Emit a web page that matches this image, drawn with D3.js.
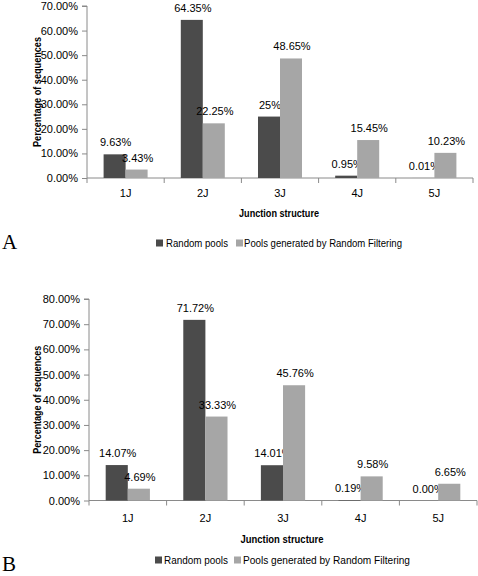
<!DOCTYPE html>
<html><head><meta charset="utf-8">
<script src="https://cdn.jsdelivr.net/npm/d3@7"></script>
<style>
html,body{margin:0;padding:0;background:#fff;}
svg{display:block;}
text{font-family:"Liberation Sans",Arial,sans-serif;fill:#000;}
</style></head>
<body>
<svg id="c" width="478" height="576"></svg>
<script>
const categories = ["1J","2J","3J","4J","5J"];
const seriesNames = ["Random pools","Pools generated by Random Filtering"];

const randomA = [9.63, 64.35, 25, 0.95, 0.01];
const filterA = [3.43, 22.25, 48.65, 15.45, 10.23];
const randomALabels = ["9.63%","64.35%","25%","0.95%","0.01%"];
const filterALabels = ["3.43%","22.25%","48.65%","15.45%","10.23%"];
const ticksA = [0,10,20,30,40,50,60,70];

const randomB = [14.07, 71.72, 14.01, 0.19, 0.00];
const filterB = [4.69, 33.33, 45.76, 9.58, 6.65];
const randomBLabels = ["14.07%","71.72%","14.01%","0.19%","0.00%"];
const filterBLabels = ["4.69%","33.33%","45.76%","9.58%","6.65%"];
const ticksB = [0,10,20,30,40,50,60,70,80];

const colors = ["#4b4b4b","#a6a6a6"];
const axisColor = "#8a8a8a";
const fs = "11px";

const svg = d3.select("#c");

function drawChart(o){
  const g = svg.append("g");
  const x0 = d3.scaleBand().domain(categories).range([o.left,o.right]).paddingInner(0.43).paddingOuter(0.215);
  const x1 = d3.scaleBand().domain([0,1]).range([0,x0.bandwidth()]);
  const y = d3.scaleLinear().domain([0,d3.max(o.ticks)]).range([o.bottom,o.top]);
  const step = x0.step();

  const ya = d3.axisLeft(y).tickValues(o.ticks).tickSize(5).tickPadding(4).tickFormat(d=>d.toFixed(2)+"%");
  const yg = g.append("g").attr("transform",`translate(${o.left},0)`).call(ya);
  yg.select(".domain").attr("stroke",axisColor).attr("d",`M-5,${y(d3.max(o.ticks))}H0V${o.bottom}`);
  yg.selectAll(".tick line").attr("stroke",axisColor);
  yg.selectAll("text").style("font-size",fs).style("font-family","'Liberation Sans',Arial,sans-serif").attr("fill","#000");

  const xa = g.append("g");
  xa.append("line").attr("x1",o.left).attr("x2",o.right).attr("y1",o.bottom).attr("y2",o.bottom).attr("stroke",axisColor);
  const bounds = d3.range(categories.length+1).map(i=>o.left + i*step);
  xa.selectAll("line.tk").data(bounds).join("line").attr("class","tk")
    .attr("x1",d=>d).attr("x2",d=>d).attr("y1",o.bottom).attr("y2",o.bottom+5).attr("stroke",axisColor);
  xa.selectAll("text.cat").data(categories).join("text").attr("class","cat")
    .attr("x",d=>x0(d)+x0.bandwidth()/2).attr("y",o.catY).attr("text-anchor","middle")
    .style("font-size",fs).text(d=>d);

  const series = [o.s1,o.s2];
  const labels = [o.l1,o.l2];
  series.forEach((s,si)=>{
    g.selectAll("rect.s"+si).data(s).join("rect").attr("class","s"+si)
      .attr("x",(d,i)=>x0(categories[i])+x1(si))
      .attr("width",x1.bandwidth())
      .attr("y",d=>y(d))
      .attr("height",d=>o.bottom-y(d))
      .attr("fill",colors[si]);
    g.selectAll("text.l"+si).data(s).join("text").attr("class","l"+si)
      .attr("x",(d,i)=>x0(categories[i])+x1(si)+x1.bandwidth()/2+1)
      .attr("y",d=>y(d)-8)
      .attr("text-anchor","middle").style("font-size",fs)
      .text((d,i)=>labels[si][i]);
  });

  g.append("text").attr("x",o.xTitleX - o.xTitleLen/2).attr("y",o.xTitleY)
    .attr("textLength",o.xTitleLen).attr("lengthAdjust","spacingAndGlyphs")
    .style("font-size",fs).style("font-weight","bold").text("Junction structure");
  g.append("text").attr("transform",`translate(41,${(o.top+o.bottom)/2 + o.yTitleLen/2}) rotate(-90)`)
    .attr("textLength",o.yTitleLen).attr("lengthAdjust","spacingAndGlyphs")
    .style("font-size",fs).style("font-weight","bold").text("Percentage of sequences");

  const L = o.leg;
  const lg = g.append("g").attr("transform",`translate(0,${o.legY})`);
  lg.append("rect").attr("x",L[0]).attr("y",-7.5).attr("width",7).attr("height",7).attr("fill",colors[0]);
  lg.append("text").attr("x",L[1]).attr("y",0).attr("textLength",L[2]).attr("lengthAdjust","spacingAndGlyphs")
    .style("font-size",fs).text(seriesNames[0]);
  lg.append("rect").attr("x",L[3]).attr("y",-7.5).attr("width",7).attr("height",7).attr("fill",colors[1]);
  lg.append("text").attr("x",L[4]).attr("y",0).attr("textLength",L[5]).attr("lengthAdjust","spacingAndGlyphs")
    .style("font-size",fs).text(seriesNames[1]);

  svg.append("text").attr("x",2).attr("y",o.letterY)
    .style("font-family","'Liberation Serif','Times New Roman',serif").style("font-size","21px").text(o.letter);
}

drawChart({left:87,right:473,top:6,bottom:178,ticks:ticksA,s1:randomA,s2:filterA,l1:randomALabels,l2:filterALabels,
  catY:197,xTitleX:279,xTitleY:217,xTitleLen:80,yTitleLen:110,legY:247,leg:[156,166,62,236,244,158],letter:"A",letterY:249});
drawChart({left:89,right:477,top:299,bottom:500.5,ticks:ticksB,s1:randomB,s2:filterB,l1:randomBLabels,l2:filterBLabels,
  catY:522,xTitleX:282,xTitleY:543,xTitleLen:83,yTitleLen:108,legY:564,leg:[155,164,64,234,243,167],letter:"B",letterY:571});
</script>
</body></html>
